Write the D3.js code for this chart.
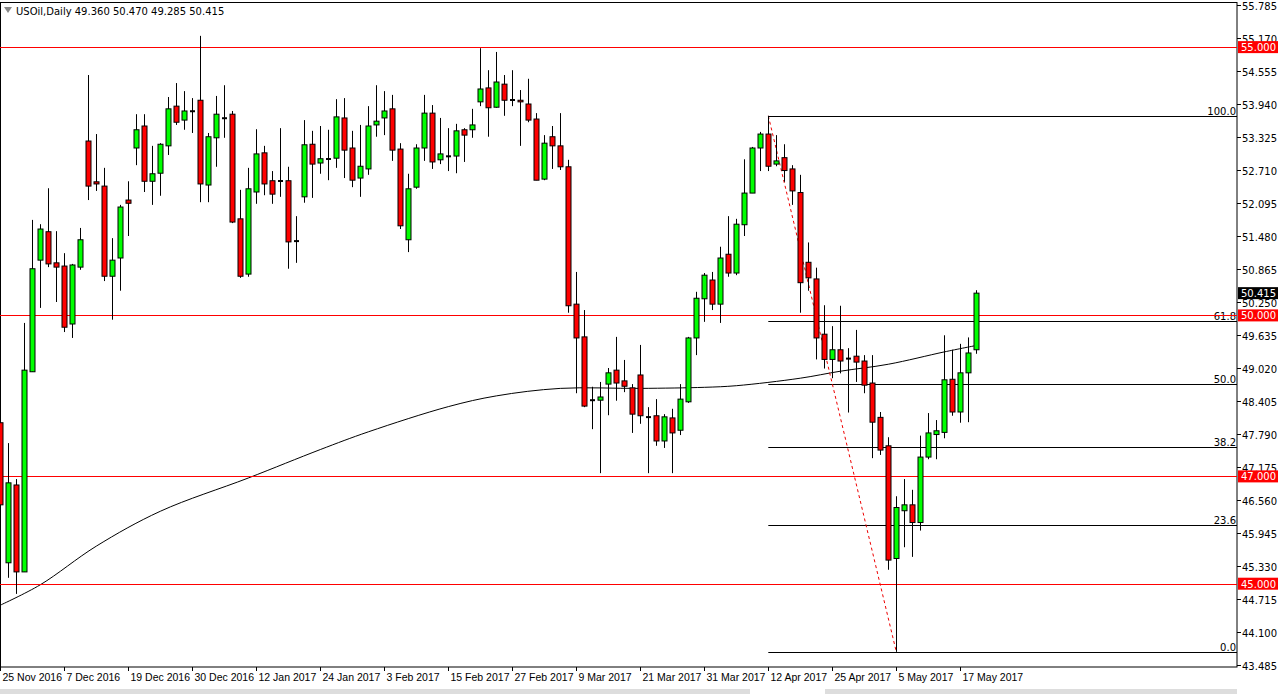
<!DOCTYPE html>
<html><head><meta charset="utf-8">
<script src="https://cdn.jsdelivr.net/npm/d3@7"></script>
<style>body{margin:0;background:#fff;overflow:hidden}text{font-family:"DejaVu Sans",sans-serif;font-size:10px}.dt{font-family:"Liberation Sans",sans-serif;font-size:10.5px}</style>
</head><body><svg id="c" width="1279" height="694"></svg>
<script>
const opens=[48.00,45.39,46.84,45.22,48.95,51.03,51.56,50.98,50.92,49.84,50.90,53.25,52.49,52.41,50.73,51.07,52.15,53.12,53.53,52.50,52.65,53.16,53.90,53.64,53.81,54.01,52.43,53.31,53.68,53.75,51.80,50.77,52.30,53.03,52.51,52.51,52.51,51.39,52.21,53.19,52.84,52.92,52.93,53.68,53.12,52.56,52.73,53.55,53.68,53.85,53.10,51.41,52.39,53.12,53.77,52.90,52.97,52.97,53.46,53.46,53.98,54.24,53.88,54.31,54.02,54.01,53.94,53.66,52.54,53.33,53.16,52.77,50.21,49.60,48.42,48.42,48.72,48.98,48.78,48.65,48.89,48.11,48.13,47.66,48.09,47.86,48.39,49.58,50.31,50.66,50.21,51.14,50.79,51.69,52.28,53.12,53.38,52.82,52.94,52.73,52.29,50.99,50.68,49.65,49.18,49.36,49.20,49.24,49.15,48.74,48.10,47.57,45.47,46.36,46.47,46.14,47.36,47.78,47.82,48.81,48.20,48.93,49.36];
const highs=[48.05,47.62,46.95,49.86,51.78,51.70,52.37,51.57,51.16,50.96,51.63,54.48,53.38,52.75,51.44,52.06,52.50,53.75,53.75,53.16,53.21,54.07,54.33,54.18,54.05,55.21,53.40,54.09,54.29,53.81,52.34,52.75,53.47,53.16,52.69,53.49,52.77,51.85,53.64,53.44,53.53,53.46,54.03,54.05,53.44,53.55,53.90,54.29,54.18,54.11,53.21,52.64,53.19,54.11,53.92,53.68,53.49,53.57,53.49,53.85,54.98,54.57,54.91,54.48,54.57,54.20,54.41,53.77,53.36,53.53,53.77,52.90,50.81,50.10,48.67,48.76,49.02,49.60,49.17,48.72,49.45,48.29,48.44,48.16,48.26,48.72,49.60,50.44,50.79,50.81,51.28,51.85,51.80,52.91,53.14,53.42,53.72,53.36,53.19,52.80,52.62,51.36,50.89,50.19,49.80,50.18,49.39,49.73,49.26,49.26,48.20,47.73,46.63,46.95,46.75,47.76,48.18,48.05,49.63,49.36,49.47,49.59,50.47];
const lows=[46.19,45.11,44.81,45.22,48.95,50.14,50.90,50.25,49.69,49.58,50.85,52.15,52.32,50.64,49.92,50.46,51.48,52.80,52.30,52.06,52.23,52.99,53.55,53.46,53.40,52.11,52.11,52.77,53.31,51.72,50.70,50.72,52.08,52.24,52.08,52.21,50.87,50.98,52.10,52.19,52.64,52.52,52.75,52.56,52.39,52.21,52.62,53.33,53.36,52.88,51.61,51.18,52.36,52.88,52.73,52.82,52.69,52.65,52.86,53.31,53.90,53.33,53.87,53.72,53.90,53.16,53.60,52.52,52.52,52.73,52.71,50.05,48.55,48.29,47.88,47.06,48.14,48.41,48.57,47.81,47.98,47.06,47.57,47.53,47.06,47.77,48.37,49.26,49.88,50.10,49.86,50.72,50.75,51.48,52.28,52.69,52.69,52.78,52.49,52.06,50.05,50.46,49.18,49.01,48.83,48.92,48.19,48.76,48.55,47.34,47.40,45.26,43.73,45.68,45.50,45.99,47.32,47.32,47.71,48.13,48.00,48.01,49.285];
const closes=[46.47,46.88,45.22,48.98,50.87,51.61,50.96,50.90,49.78,50.94,51.41,52.41,52.45,50.73,51.03,52.02,52.09,53.46,52.50,52.64,53.19,53.85,53.60,53.81,53.80,52.45,53.33,53.75,53.67,51.74,50.73,52.36,53.01,52.45,52.26,52.50,51.37,51.38,53.18,52.82,52.92,52.91,53.70,53.08,52.52,52.78,53.53,53.62,53.81,53.08,51.67,52.36,53.12,53.77,52.86,53.01,52.96,53.44,53.36,53.55,54.22,53.87,54.35,54.01,54.01,53.98,53.64,52.52,53.21,53.16,52.77,50.18,49.58,48.31,48.42,48.48,48.93,48.74,48.68,48.16,48.13,48.10,47.66,48.11,47.81,48.44,49.58,50.32,50.75,50.21,51.07,50.79,51.70,52.28,53.12,53.38,52.78,52.88,52.70,52.32,50.61,50.70,49.58,49.18,49.36,49.15,49.19,49.13,48.70,48.01,47.49,45.44,46.42,46.47,46.14,47.36,47.81,47.85,48.80,48.20,48.93,49.30,50.415];
const maBars=[0,5,12,20,31,40,46,56,62,70,80,88,92,100,105,111,118,122];
const maValues=[44.60,44.98,45.70,46.35,46.97,47.50,47.83,48.30,48.50,48.64,48.64,48.66,48.69,48.83,48.96,49.09,49.32,49.44];
const dateLabels=["25 Nov 2016","7 Dec 2016","19 Dec 2016","30 Dec 2016","12 Jan 2017","24 Jan 2017","3 Feb 2017","15 Feb 2017","27 Feb 2017","9 Mar 2017","21 Mar 2017","31 Mar 2017","12 Apr 2017","25 Apr 2017","5 May 2017","17 May 2017"];
const priceTicks=["55.785","55.170","54.555","53.940","53.325","52.710","52.095","51.480","50.865","50.250","49.635","49.020","48.405","47.790","47.175","46.560","45.945","45.330","44.715","44.100","43.485"];
const levels=[55,50,47,45];
const fibHigh=53.72, fibLow=43.73, fibStart=96, fibEnd=112;
const fibRatios=[1,0.618,0.5,0.382,0.236,0];
const fibNames=["100.0","61.8","50.0","38.2","23.6","0.0"];

const svg=d3.select("#c");
const R=1237, B=667, N=opens.length;
const x=d3.scaleLinear().domain([0,N-1]).range([0.3,976.3]);
const y=d3.scaleLinear().domain([43.485,55.785]).range([665,5]);

svg.append("rect").attr("x",0.5).attr("y",2.5).attr("width",R-0.5).attr("height",B-2.5).attr("fill","none").attr("stroke","#000");
svg.append("path").datum(maBars.map((b,i)=>[b,maValues[i]])).attr("fill","none").attr("stroke","#000").attr("stroke-width",1)
 .attr("d",d3.line().x(d=>x(d[0])).y(d=>y(d[1])).curve(d3.curveCatmullRom.alpha(0.5)));
fibRatios.forEach((r,i)=>{const p=fibLow+r*(fibHigh-fibLow);const yy=Math.round(y(p))+0.5;
 svg.append("line").attr("x1",x(fibStart)).attr("x2",R).attr("y1",yy).attr("y2",yy).attr("stroke","#000");
 svg.append("text").attr("x",R-1).attr("y",yy-2).attr("text-anchor","end").text(fibNames[i]);});
svg.append("line").attr("x1",x(fibStart)).attr("y1",y(fibHigh)).attr("x2",x(fibEnd)).attr("y2",y(fibLow)).attr("stroke","#e00").attr("stroke-dasharray","3,3");
levels.forEach(l=>{const yy=Math.round(y(l))+0.5;svg.append("line").attr("x1",0).attr("x2",R).attr("y1",yy).attr("y2",yy).attr("stroke","#f00");});
const g=svg.append("g");
for(let i=0;i<N;i++){const cx=Math.round(x(i))+0.5;const up=closes[i]>=opens[i];
 g.append("line").attr("x1",cx).attr("x2",cx).attr("y1",y(highs[i])).attr("y2",y(lows[i])).attr("stroke","#000");
 const t=y(Math.max(opens[i],closes[i])),b=y(Math.min(opens[i],closes[i]));
 if(b-t<1.5){g.append("line").attr("x1",cx-2.5).attr("x2",cx+2.5).attr("y1",(t+b)/2).attr("y2",(t+b)/2).attr("stroke","#000").attr("stroke-width",2);}
 else g.append("rect").attr("x",cx-2.5).attr("y",t).attr("width",5).attr("height",b-t).attr("fill",up?"#00ff00":"#ff0000").attr("stroke","#000");}
priceTicks.forEach(t=>{const yy=Math.round(y(+t))+0.5;svg.append("line").attr("x1",R).attr("x2",R+4).attr("y1",yy).attr("y2",yy).attr("stroke","#000");
 svg.append("text").attr("x",R+5).attr("y",yy+4).text(t);});
function tag(p,col,txt){const yy=y(p);svg.append("rect").attr("x",R+1).attr("y",yy-6).attr("width",40).attr("height",12).attr("fill",col);
 svg.append("text").attr("x",R+4).attr("y",yy+4).attr("fill","#fff").text(txt);}
levels.forEach(l=>tag(l,"#f00",l.toFixed(3)));
tag(closes[N-1],"#000",closes[N-1].toFixed(3));
dateLabels.forEach((d,i)=>{const xx=Math.round(x(i*8))+0.5;svg.append("line").attr("x1",xx).attr("x2",xx).attr("y1",B).attr("y2",B+4).attr("stroke","#000");
 svg.append("text").attr("class","dt").attr("x",xx+2).attr("y",B+14).text(d);});
svg.append("rect").attr("x",0).attr("y",689).attr("width",750).attr("height",5).attr("fill","#ddd");
svg.append("rect").attr("x",825).attr("y",689).attr("width",412).attr("height",5).attr("fill","#ddd");
svg.append("path").attr("d","M4,7 L12,7 L8,13 Z").attr("fill","#888");
svg.append("text").attr("x",16).attr("y",15).text("USOil,Daily  "+[opens[N-1],highs[N-1],lows[N-1],closes[N-1]].map(v=>v.toFixed(3)).join(" "));
</script></body></html>
